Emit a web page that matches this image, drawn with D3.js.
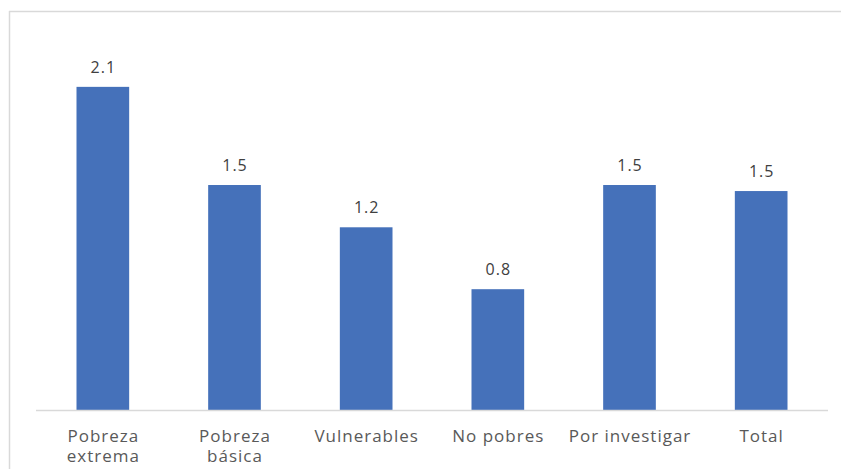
<!DOCTYPE html>
<head>
    <meta charset="utf-8">
    <script src="https://d3js.org/d3.v7.min.js"></script>
</head>
<body>
<svg id="chart"></svg>
</body>
<script>
    // categories and values
    var categories = [["Pobreza", "extrema"], ["Pobreza", "básica"], ["Vulnerables"], ["No pobres"], ["Por investigar"], ["Total"]]
    var values = [2.14, 1.49, 1.21, 0.80, 1.49, 1.45]
    var valueLabels = ["2.1", "1.5", "1.2", "0.8", "1.5", "1.5"]

    var width = 841,
        height = 469;

    var svg = d3.select("#chart")
        .attr("width", width)
        .attr("height", height)

    // chart area frame (top and left edges only visible)
    svg.append("line").attr("x1", 9).attr("x2", width).attr("y1", 11.5).attr("y2", 11.5)
        .attr("stroke", "#d9d9d9").attr("stroke-width", 1.5)
    svg.append("line").attr("x1", 9.5).attr("x2", 9.5).attr("y1", 11).attr("y2", height)
        .attr("stroke", "#d9d9d9").attr("stroke-width", 1.5)

    var x = d3.scaleBand()
        .domain(d3.range(categories.length))
        .range([37, 827])
        .paddingInner(0.6)
        .paddingOuter(0.3)

    var y = d3.scaleLinear()
        .domain([0, 2.5])
        .range([410, 32.5])

    svg.selectAll(".bar")
        .data(values)
        .enter().append("rect")
        .attr("class", "bar")
        .attr("x", function(d, i) { return x(i) })
        .attr("width", x.bandwidth())
        .attr("y", function(d) { return y(d) })
        .attr("height", function(d) { return y(0) - y(d) })
        .attr("fill", "#4571ba")

    // baseline
    svg.append("line").attr("x1", 36).attr("x2", 828).attr("y1", y(0) + 0.5).attr("y2", y(0) + 0.5)
        .attr("stroke", "#d9d9d9").attr("stroke-width", 1.5)

    svg.selectAll(".val")
        .data(values)
        .enter().append("text")
        .attr("class", "val")
        .attr("x", function(d, i) { return x(i) + x.bandwidth() / 2 + 0.5 })
        .attr("y", function(d) { return y(d) - 14 })
        .attr("text-anchor", "middle")
        .style("font-family", "Open Sans, sans-serif")
        .style("font-size", "16px")
        .style("letter-spacing", "1px")
        .attr("fill", "#404040")
        .text(function(d, i) { return valueLabels[i] })

    var labels = svg.selectAll(".cat")
        .data(categories)
        .enter().append("text")
        .attr("class", "cat")
        .attr("text-anchor", "middle")
        .style("font-family", "Open Sans, sans-serif")
        .style("font-size", "17px")
        .style("letter-spacing", "1px")
        .attr("fill", "#595959")

    labels.selectAll("tspan")
        .data(function(d, i) { return d.map(function(t) { return {t: t, i: i} }) })
        .enter().append("tspan")
        .attr("x", function(d) { return x(d.i) + x.bandwidth() / 2 + 0.5 })
        .attr("y", function(d, j) { return 442 + j * 20 })
        .text(function(d) { return d.t })
</script>
<style>
    html, body { margin: 0; background: #fff; }
    svg { display: block; }
</style>
</html>
